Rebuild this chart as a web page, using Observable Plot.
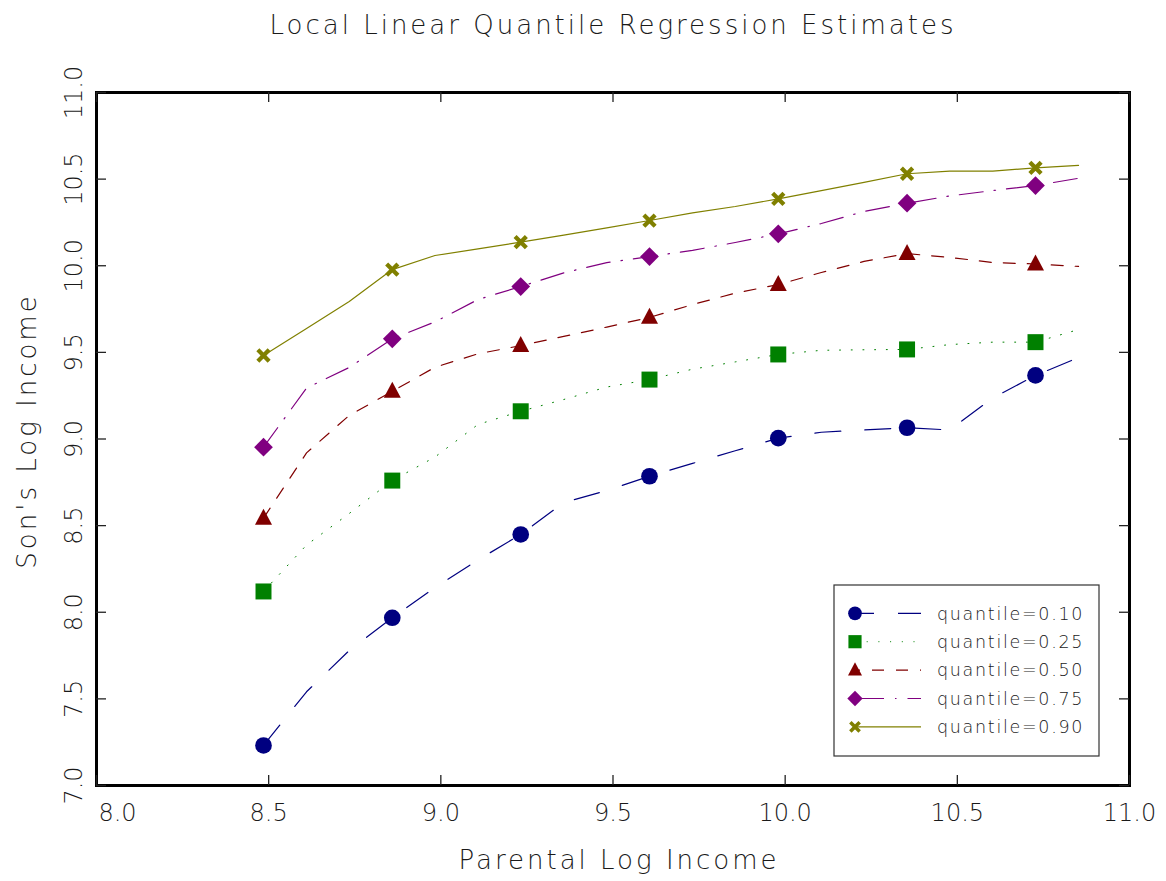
<!DOCTYPE html>
<html><head><meta charset="utf-8">
<script src="https://cdn.jsdelivr.net/npm/d3@7"></script>
<script src="https://cdn.jsdelivr.net/npm/@observablehq/plot@0.6"></script>
<style>body{margin:0;background:#fff} svg{display:block}</style>
</head><body><div id="chart"></div>
<script>
// ---- data ----
const chartTitle = "Local Linear Quantile Regression Estimates";
const xTitle = "Parental Log Income";
const yTitle = "Son's Log Income";
const parentalLogIncome = [8.485, 8.610, 8.734, 8.859, 8.983, 9.108, 9.232, 9.357, 9.482, 9.606,
                           9.731, 9.855, 9.980, 10.105, 10.229, 10.354, 10.478, 10.603, 10.727, 10.852];
const q10 = [7.231, 7.541, 7.779, 7.968, 8.143, 8.302, 8.449, 8.633, 8.703, 8.785,
             8.859, 8.932, 9.005, 9.039, 9.052, 9.065, 9.052, 9.237, 9.367, 9.470];
const q25 = [8.120, 8.388, 8.570, 8.760, 8.896, 9.084, 9.160, 9.228, 9.300, 9.343,
             9.403, 9.445, 9.488, 9.512, 9.515, 9.517, 9.545, 9.559, 9.559, 9.632];
const q50 = [8.543, 8.920, 9.136, 9.275, 9.414, 9.492, 9.539, 9.592, 9.646, 9.702,
             9.776, 9.842, 9.891, 9.961, 10.025, 10.070, 10.048, 10.019, 10.010, 9.996];
const q75 = [8.953, 9.294, 9.413, 9.578, 9.676, 9.805, 9.880, 9.959, 10.018, 10.053,
             10.089, 10.134, 10.184, 10.244, 10.313, 10.361, 10.403, 10.434, 10.463, 10.505];
const q90 = [9.482, 9.638, 9.794, 9.978, 10.059, 10.097, 10.136, 10.177, 10.219, 10.261,
             10.305, 10.342, 10.386, 10.434, 10.481, 10.531, 10.546, 10.546, 10.565, 10.579];
const seriesLabels = ["quantile=0.10", "quantile=0.25", "quantile=0.50", "quantile=0.75", "quantile=0.90"];
const xTicks = [8.0, 8.5, 9.0, 9.5, 10.0, 10.5, 11.0];
const yTicks = [7.0, 7.5, 8.0, 8.5, 9.0, 9.5, 10.0, 10.5, 11.0];

// ---- custom symbols ----
const symCircle = {draw(c, s){const r=Math.sqrt(s/Math.PI)*0.98; c.moveTo(r,0); c.arc(0,0,r,0,2*Math.PI);}};
const symSquare = {draw(c, s){const h=Math.sqrt(s/Math.PI)*0.94; c.moveTo(-h,-h); c.lineTo(h,-h); c.lineTo(h,h); c.lineTo(-h,h); c.closePath();}};
const symTriangle = {draw(c, s){const r=Math.sqrt(s/Math.PI); c.moveTo(0,-1.12*r); c.lineTo(r,0.76*r); c.lineTo(-r,0.76*r); c.closePath();}};
const symDiamond = {draw(c, s){const h=Math.sqrt(s/Math.PI)*1.1; c.moveTo(0,-h); c.lineTo(h,0); c.lineTo(0,h); c.lineTo(-h,0); c.closePath();}};
const symTimes = {draw(c, s){
  const r=Math.sqrt(s/Math.PI); const h=0.94*r, t=0.25*r, k=Math.SQRT1_2;
  for (const [ux,uy] of [[k,k],[k,-k]]) {
    const nx=-uy, ny=ux;
    c.moveTo(-h*ux - t*nx, -h*uy - t*ny);
    c.lineTo( h*ux - t*nx,  h*uy - t*ny);
    c.lineTo( h*ux + t*nx,  h*uy + t*ny);
    c.lineTo(-h*ux + t*nx, -h*uy + t*ny);
    c.closePath();
  }
}};

const series = [
  {label: seriesLabels[0], values: q10, color: "#000080", dash: "26,24", off: 7, sym: symCircle, lw: 1.2},
  {label: seriesLabels[1], values: q25, color: "#008000", dash: "1,10.7", off: 0, sym: symSquare, lw: 1},
  {label: seriesLabels[2], values: q50, color: "#800000", dash: "12,12", off: 7, sym: symTriangle, lw: 1.2},
  {label: seriesLabels[3], values: q75, color: "#800080", dash: "24,11,1.5,11", off: -5, sym: symDiamond, lw: 1.2},
  {label: seriesLabels[4], values: q90, color: "#808000", dash: null, off: 0, sym: symTimes, lw: 1.2}
];

const FONT = "DejaVu Sans";
const TXT = "#1a1a1a";

const marks = [];
for (const s of series) {
  const rows = parentalLogIncome.map((x, i) => ({x, y: s.values[i], i}));
  marks.push(Plot.line(rows, {x: "x", y: "y", stroke: s.color, strokeWidth: s.lw,
    strokeDasharray: s.dash || undefined}));
}
for (const s of series) {
  const rows = parentalLogIncome.map((x, i) => ({x, y: s.values[i], i})).filter(d => d.i % 3 === 0);
  marks.push(Plot.dot(rows, {x: "x", y: "y", symbol: s.sym, fill: s.color, stroke: "none", r: 8.5}));
}

const txt = {fontWeight: 200, fill: TXT, lineAnchor: "middle", textAnchor: "middle"};

const chart = Plot.plot({
  width: 1166, height: 881,
  marginLeft: 96, marginRight: 37, marginTop: 92, marginBottom: 96,
  x: {domain: [8, 11], axis: null},
  y: {domain: [7, 11], axis: null},
  style: {fontFamily: FONT, background: "#fff", color: TXT},
  marks: [
    ...marks,
    Plot.frame({stroke: "#000", strokeWidth: 3}),
    Plot.tickX(xTicks, {x: d => d, insetTop: 683, stroke: "#222", strokeWidth: 1.3}),
    Plot.tickX(xTicks, {x: d => d, insetBottom: 683, stroke: "#222", strokeWidth: 1.3}),
    Plot.tickY(yTicks, {y: d => d, insetRight: 1023, stroke: "#222", strokeWidth: 1.3}),
    Plot.tickY(yTicks, {y: d => d, insetLeft: 1023, stroke: "#222", strokeWidth: 1.3}),
    Plot.text(xTicks.slice(1), {...txt, x: d => d, frameAnchor: "bottom", dy: 28, text: d => d.toFixed(1), fontSize: 24}),
    Plot.text(xTicks.slice(0, 1), {...txt, x: d => d, frameAnchor: "bottom", dy: 28, dx: 21, text: d => d.toFixed(1), fontSize: 24}),
    Plot.text(yTicks, {...txt, y: d => d, frameAnchor: "left", dx: -22, rotate: -90, text: d => d.toFixed(1), fontSize: 24}),
    Plot.text([chartTitle], {...txt, frameAnchor: "top", dy: -67, text: d => d, fontSize: 26}),
    Plot.text([xTitle], {...txt, frameAnchor: "bottom", dy: 75, dx: 6, text: d => d, fontSize: 26}),
    Plot.text([yTitle], {...txt, frameAnchor: "left", dx: -69, dy: -8, rotate: -90, text: d => d, fontSize: 26})
  ]
});
document.getElementById("chart").appendChild(chart);

// letter spacing for titles, emulating the wide vector font
const svg = d3.select(chart);
svg.selectAll("g[aria-label='text']").each(function(){
  const g = d3.select(this);
  if (g.attr("font-size") == "26") g.attr("letter-spacing", "3px");
});

// ---- legend ----
const lg = svg.append("g").attr("font-family", FONT).attr("text-anchor", "start");
const L = {x: 834, y: 585, w: 265, h: 171, row0: 613.3, dy: 28.4, mx: 855, lx2: 921, tx: 937};
lg.append("rect").attr("x", L.x).attr("y", L.y).attr("width", L.w).attr("height", L.h)
  .attr("fill", "#fff").attr("stroke", "#333").attr("stroke-width", 1.2);
series.forEach((s, i) => {
  const y = L.row0 + i * L.dy;
  const ln = lg.append("line").attr("x1", L.mx).attr("x2", L.lx2).attr("y1", y).attr("y2", y)
    .attr("stroke", s.color).attr("stroke-width", s.lw);
  if (s.dash) ln.attr("stroke-dasharray", s.dash).attr("stroke-dashoffset", s.off);
  lg.append("path").attr("transform", `translate(${L.mx},${y})`)
    .attr("d", d3.symbol(s.sym, Math.PI * 7 * 7)()).attr("fill", s.color);
  lg.append("text").attr("x", L.tx).attr("y", y).attr("dy", "0.36em")
    .attr("font-size", 17.5).attr("font-weight", 200).attr("letter-spacing", "1.7px")
    .attr("fill", TXT).text(s.label);
});
</script>
</body></html>
